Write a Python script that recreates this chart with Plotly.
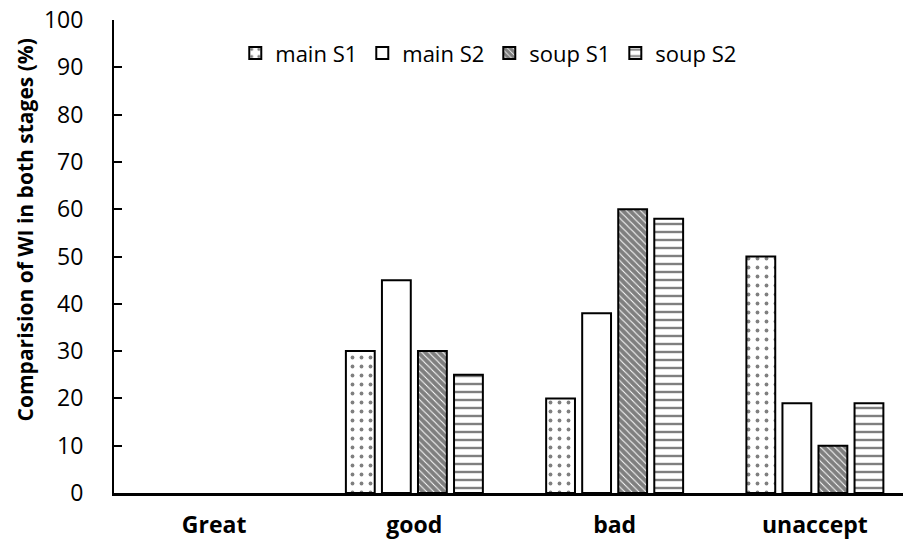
import plotly.graph_objects as go

# Rating categories and percentage of WI for each dish/stage
categories = ["Great", "good", "bad", "unaccept"]
main_s1 = [0, 30, 20, 50]
main_s2 = [0, 45, 38, 19]
soup_s1 = [0, 30, 60, 10]
soup_s2 = [0, 25, 58, 19]
y_title = "Comparision of WI in both stages (%)"

series = [
    ("main S1", main_s1, dict(shape=".", size=9, solidity=0.14, fgcolor="black", bgcolor="white")),
    ("main S2", main_s2, dict(shape="", fgcolor="black", bgcolor="white")),
    ("soup S1", soup_s1, dict(shape="\\", size=5, solidity=0.8, fgcolor="black", bgcolor="white")),
    ("soup S2", soup_s2, dict(shape="-", size=8, solidity=0.3, fgcolor="black", bgcolor="white")),
]

fig = go.Figure()
for name, vals, pat in series:
    # categories with no responses get no bar at all
    xs = [c for c, v in zip(categories, vals) if v > 0]
    ys = [v for v in vals if v > 0]
    fig.add_trace(go.Bar(
        x=xs, y=ys, name=name,
        marker=dict(color="white", line=dict(color="black", width=2), pattern=pat),
    ))

font_family = "'Open Sans', sans-serif"
fig.update_layout(
    width=903, height=542,
    margin=dict(l=114, r=0, t=20, b=49),
    plot_bgcolor="white", paper_bgcolor="white",
    barmode="group", bargap=0.28, bargroupgap=0.2,
    font=dict(family=font_family, color="black", size=22),
    legend=dict(orientation="h", x=0.475, xanchor="center", y=0.93, yanchor="middle",
                font=dict(size=22), bgcolor="rgba(0,0,0,0)", itemwidth=30),
    showlegend=True,
)
fig.update_xaxes(
    type="category", categoryorder="array", categoryarray=categories,
    range=[-0.5, 3.44], showline=True, linecolor="black", linewidth=2.5,
    ticks="", tickfont=dict(size=23, family=font_family, weight="bold"),
    ticklabelstandoff=10, showgrid=False, zeroline=False,
)
fig.update_yaxes(
    range=[0, 100], dtick=10, showline=True, linecolor="black", linewidth=2,
    ticks="inside", ticklen=8, tickwidth=1.5, tickcolor="black",
    tickfont=dict(size=23), ticklabelstandoff=24, showgrid=False, zeroline=False,
)

# vertical axis title, placed slightly above the plot's middle
fig.add_annotation(
    text=y_title, textangle=-90, showarrow=False,
    xref="paper", yref="paper", x=-0.113, y=0.557,
    xanchor="center", yanchor="middle",
    font=dict(size=21, weight="bold", family=font_family, color="black"),
)

fig.write_html("out.html")
